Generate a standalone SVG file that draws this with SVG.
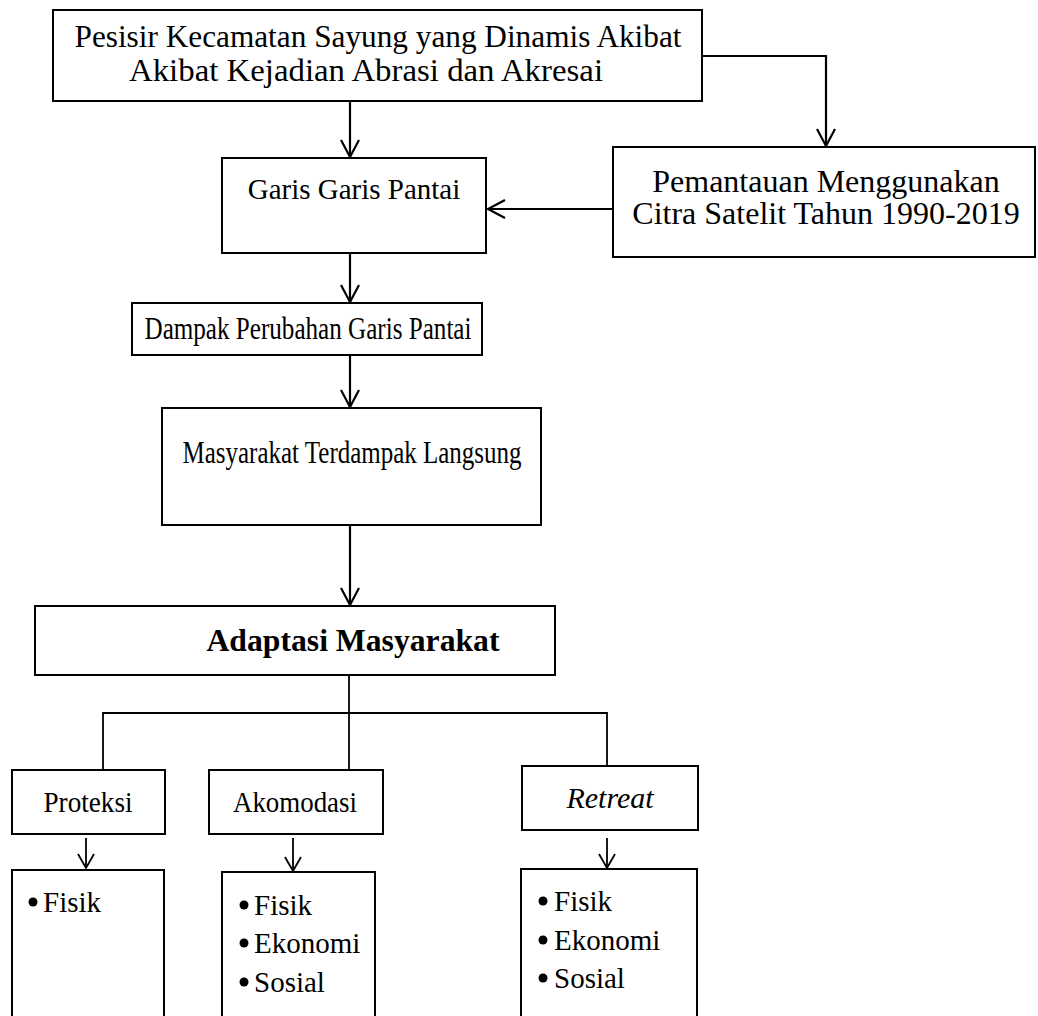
<svg xmlns="http://www.w3.org/2000/svg" width="1038" height="1016" viewBox="0 0 1038 1016">
<defs>
<marker id="ah" markerWidth="22" markerHeight="22" refX="18" refY="10" orient="auto" markerUnits="userSpaceOnUse">
<path d="M1,1 L18,10 L1,19" fill="none" stroke="#000" stroke-width="2.2"/>
</marker>
<marker id="ahs" markerWidth="18" markerHeight="18" refX="15" refY="9" orient="auto" markerUnits="userSpaceOnUse">
<path d="M1,1 L15,9 L1,17" fill="none" stroke="#000" stroke-width="1.8"/>
</marker>
</defs>
<style>
.box{fill:#fff;stroke:#000;stroke-width:2}
.t{font-family:"Liberation Serif","Times New Roman",serif;fill:#000;text-anchor:middle}
.l{font-family:"Liberation Serif","Times New Roman",serif;fill:#000;font-size:29px}
.c{fill:none;stroke:#000;stroke-width:2.2}
.cs{fill:none;stroke:#000;stroke-width:1.8}
</style>
<rect width="1038" height="1016" fill="#fff"/>
<g id="connectors">
<path class="c" d="M350,101 V157" marker-end="url(#ah)"/>
<path class="c" d="M702,56 H826 V146" marker-end="url(#ah)"/>
<path class="c" d="M613,209 H488" marker-end="url(#ah)"/>
<path class="c" d="M350,253 V302" marker-end="url(#ah)"/>
<path class="c" d="M350,355 V407" marker-end="url(#ah)"/>
<path class="c" d="M350,525 V605" marker-end="url(#ah)"/>
<path class="cs" d="M349,675 V769"/>
<path class="cs" d="M103,770 V713 H607 V766"/>
<path class="cs" d="M86,838 V868" marker-end="url(#ahs)"/>
<path class="cs" d="M293,838 V871" marker-end="url(#ahs)"/>
<path class="cs" d="M607,838 V868" marker-end="url(#ahs)"/>
</g>
<g id="n-pesisir">
<rect class="box" x="53" y="10" width="649" height="91"/>
<text class="t" x="378" y="47" font-size="31" textLength="607" lengthAdjust="spacingAndGlyphs">Pesisir Kecamatan Sayung yang Dinamis Akibat</text>
<text class="t" x="366" y="81" font-size="31" textLength="474" lengthAdjust="spacingAndGlyphs">Akibat Kejadian Abrasi dan Akresai</text>
</g>
<g id="n-pemantauan">
<rect class="box" x="613" y="147" width="422" height="110"/>
<text class="t" x="826" y="192" font-size="32">Pemantauan Menggunakan</text>
<text class="t" x="826" y="224" font-size="32">Citra Satelit Tahun 1990-2019</text>
</g>
<g id="n-garis">
<rect class="box" x="222" y="158" width="264" height="95"/>
<text class="t" x="354" y="199" font-size="29">Garis Garis Pantai</text>
</g>
<g id="n-dampak">
<rect class="box" x="132" y="303" width="350" height="52"/>
<text class="t" x="308" y="339" font-size="31" textLength="327" lengthAdjust="spacingAndGlyphs">Dampak Perubahan Garis Pantai</text>
</g>
<g id="n-masyarakat">
<rect class="box" x="162" y="408" width="379" height="117"/>
<text class="t" x="352" y="463" font-size="31" textLength="339" lengthAdjust="spacingAndGlyphs">Masyarakat Terdampak Langsung</text>
</g>
<g id="n-adaptasi">
<rect class="box" x="35" y="606" width="520" height="69"/>
<text class="t" x="353" y="651" font-size="32" font-weight="bold" textLength="293" lengthAdjust="spacingAndGlyphs">Adaptasi Masyarakat</text>
</g>
<g id="n-proteksi">
<rect class="box" x="12" y="770" width="153" height="64"/>
<text class="t" x="88" y="812" font-size="30" textLength="89" lengthAdjust="spacingAndGlyphs">Proteksi</text>
</g>
<g id="n-akomodasi">
<rect class="box" x="209" y="770" width="174" height="64"/>
<text class="t" x="295" y="812" font-size="30" textLength="124" lengthAdjust="spacingAndGlyphs">Akomodasi</text>
</g>
<g id="n-retreat">
<rect class="box" x="522" y="766" width="176" height="64"/>
<text class="t" x="610" y="808" font-size="30" font-style="italic">Retreat</text>
</g>
<g id="n-proteksi-list">
<rect class="box" x="12" y="870" width="152" height="160"/>
<circle cx="33" cy="902" r="4.5"/>
<text class="l" x="43" y="912">Fisik</text>
</g>
<g id="n-akomodasi-list">
<rect class="box" x="222" y="872" width="153" height="160"/>
<circle cx="244" cy="905" r="4.5"/>
<text class="l" x="254" y="915">Fisik</text>
<circle cx="244" cy="943" r="4.5"/>
<text class="l" x="254" y="953">Ekonomi</text>
<circle cx="244" cy="982" r="4.5"/>
<text class="l" x="254" y="992">Sosial</text>
</g>
<g id="n-retreat-list">
<rect class="box" x="521" y="869" width="176" height="160"/>
<circle cx="543" cy="901" r="4.5"/>
<text class="l" x="554" y="911">Fisik</text>
<circle cx="543" cy="940" r="4.5"/>
<text class="l" x="554" y="950">Ekonomi</text>
<circle cx="543" cy="978" r="4.5"/>
<text class="l" x="554" y="988">Sosial</text>
</g>
</svg>
